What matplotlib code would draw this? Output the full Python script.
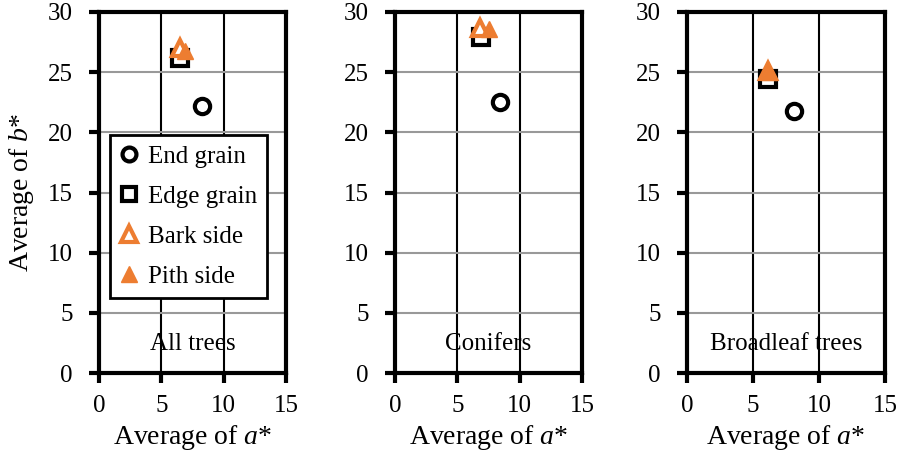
import matplotlib
matplotlib.use("Agg")
import matplotlib.pyplot as plt
from matplotlib.lines import Line2D

plt.rcParams["font.family"] = ["Liberation Serif", "DejaVu Serif"]
plt.rcParams["mathtext.fontset"] = "custom"
plt.rcParams["mathtext.rm"] = "Liberation Serif"
plt.rcParams["mathtext.it"] = "Liberation Serif:italic"

panels = ["All trees", "Conifers", "Broadleaf trees"]
series = ["End grain", "Edge grain", "Bark side", "Pith side"]
a_vals = {
    "End grain": [8.3, 8.4, 8.1],
    "Edge grain": [6.5, 6.9, 6.1],
    "Bark side": [6.5, 6.8, 6.1],
    "Pith side": [6.9, 7.5, 6.2],
}
b_vals = {
    "End grain": [22.2, 22.5, 21.8],
    "Edge grain": [26.2, 27.9, 24.4],
    "Bark side": [27.0, 28.7, 25.1],
    "Pith side": [26.8, 28.6, 25.0],
}

ORANGE = "#ED7D31"
styles = {
    "End grain": dict(marker="o", mfc="white", mec="black", ms=11, mew=3),
    "Edge grain": dict(marker="s", mfc="white", mec="black", ms=11, mew=3),
    "Bark side": dict(marker="^", mfc="white", mec=ORANGE, ms=12, mew=3),
    "Pith side": dict(marker="^", mfc=ORANGE, mec=ORANGE, ms=12, mew=1),
}

fig = plt.figure(figsize=(8.98, 4.53), dpi=100)
lefts = [99, 395, 687]
widths = [187, 187, 198]
W, H = 898, 453
axes = []
for i, name in enumerate(panels):
    ax = fig.add_axes([lefts[i] / W, (H - 373) / H, widths[i] / W, (373 - 12) / H])
    axes.append(ax)
    ax.set_xlim(0, 15)
    ax.set_ylim(0, 30)
    ax.set_xticks([0, 5, 10, 15])
    ax.set_yticks(range(0, 31, 5))
    for xv in [5, 10]:
        ax.axvline(xv, color="black", lw=1.5, zorder=1)
    for yv in range(5, 30, 5):
        ax.axhline(yv, color="#999999", lw=1.5, zorder=1)
    for s in ax.spines.values():
        s.set_linewidth(3)
    ax.tick_params(direction="out", length=7, width=3, labelsize=18)
    ax.tick_params(axis="y", pad=12)
    ax.tick_params(axis="x", pad=9)
    for key in series:
        ax.plot(a_vals[key][i], b_vals[key][i], ls="none", zorder=3, **styles[key])
    ax.text(0.5, 0.08, name, transform=ax.transAxes, ha="center", va="center", fontsize=18)
    ax.set_xlabel(r"Average of $\mathit{a}$*", fontsize=20, labelpad=4)

axes[0].set_ylabel(r"Average of $\mathit{b}$*", fontsize=20, labelpad=8)

handles = [Line2D([], [], ls="none", **styles[k]) for k in series]
for h, k in zip(handles, series):
    h.set_markersize(10 if k in ("End grain", "Edge grain") else 11)
leg = axes[0].legend(handles, series, loc="upper left", bbox_to_anchor=(0.06, 0.658),
                     fontsize=18, frameon=True, fancybox=False, edgecolor="black",
                     handlelength=0.7, handletextpad=0.4, labelspacing=0.7,
                     borderpad=0.4, borderaxespad=0)
leg.get_frame().set_linewidth(2)
leg.get_frame().set_alpha(1)

fig.savefig("out.png", dpi=100)
